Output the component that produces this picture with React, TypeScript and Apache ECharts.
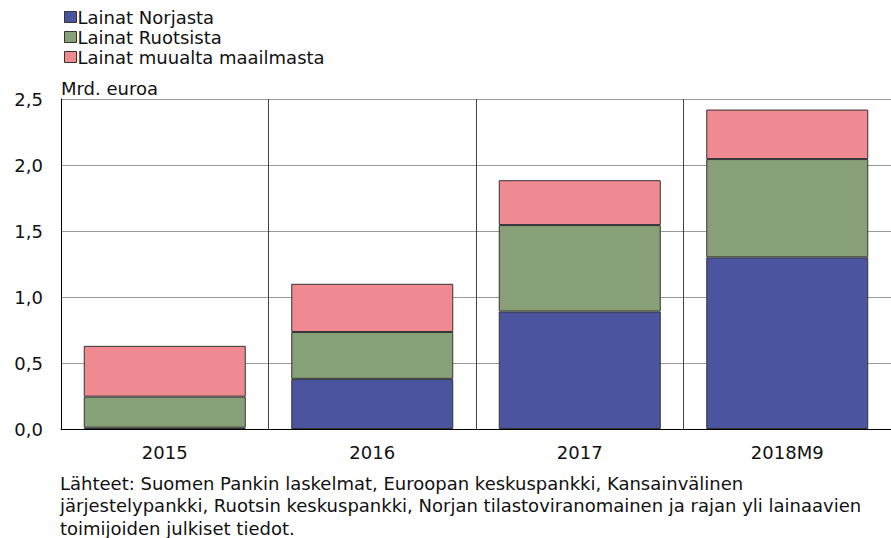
import React, { useEffect, useRef } from "react";
import * as echarts from "echarts";

const categories = ["2015", "2016", "2017", "2018M9"];
const norway = [0.01, 0.38, 0.89, 1.3];
const sweden = [0.235, 0.355, 0.655, 0.745];
const other = [0.385, 0.365, 0.34, 0.375];
const seriesNames = ["Lainat Norjasta", "Lainat Ruotsista", "Lainat muualta maailmasta"];
const colors = ["#4b549f", "#87a077", "#ef8a91"];
const yTicks = { min: 0, max: 2.5, interval: 0.5 };
const unitLabel = "Mrd. euroa";
const sourceLines = [
  "Lähteet: Suomen Pankin laskelmat, Euroopan keskuspankki, Kansainvälinen",
  "järjestelypankki, Ruotsin keskuspankki, Norjan tilastoviranomainen ja rajan yli lainaavien",
  "toimijoiden julkiset tiedot.",
];

const FONT = "'DejaVu Sans', sans-serif";
const FS = 18;

export default function App() {
  const ref = useRef<HTMLDivElement>(null);
  useEffect(() => {
    if (!ref.current) return;
    const chart = echarts.init(ref.current, null, { renderer: "svg" });
    const data = [norway, sweden, other];
    chart.setOption({
      animation: false,
      textStyle: { fontFamily: FONT },
      color: colors,
      legend: {
        orient: "vertical",
        left: 59,
        top: 3,
        itemWidth: 12,
        itemHeight: 11,
        itemGap: 2,
        icon: "rect",
        textStyle: { fontSize: FS, color: "#111", fontFamily: FONT, padding: [0, 0, 0, -4] },
        data: seriesNames.map((n) => ({ name: n, itemStyle: { borderColor: "#333", borderWidth: 1 } })),
      },
      grid: { left: 61, top: 99, width: 840, height: 330, containLabel: false },
      xAxis: {
        type: "category",
        data: categories,
        axisLine: { show: true, lineStyle: { color: "#000", width: 1 } },
        axisTick: { show: false },
        axisLabel: { fontSize: FS, color: "#111", margin: 14, fontFamily: FONT },
        splitLine: { show: true, interval: 0, lineStyle: { color: "#444", width: 1 } },
      },
      yAxis: {
        type: "value",
        min: yTicks.min,
        max: yTicks.max,
        interval: yTicks.interval,
        axisLine: { show: true, lineStyle: { color: "#000", width: 1 } },
        axisTick: { show: false },
        axisLabel: {
          fontSize: FS,
          color: "#111",
          margin: 18,
          fontFamily: FONT,
          formatter: (v: number) => v.toFixed(1).replace(".", ","),
        },
        splitLine: { show: true, lineStyle: { color: "#999", width: 1 } },
      },
      graphic: [
        {
          type: "text",
          left: 61,
          top: 79,
          style: { text: unitLabel, fontSize: FS, fill: "#111", fontFamily: FONT },
        },
        {
          type: "text",
          left: 60,
          top: 472,
          style: {
            text: sourceLines.join("\n"),
            fontSize: FS,
            lineHeight: 22.5,
            fill: "#111",
            fontFamily: FONT,
          },
        },
      ],
      series: seriesNames.map((name, i) => ({
        name,
        type: "bar",
        stack: "total",
        barWidth: 162,
        data: data[i],
        itemStyle: { color: colors[i], borderColor: "#333", borderWidth: 1 },
      })),
    });
    return () => chart.dispose();
  }, []);
  return <div ref={ref} style={{ width: 891, height: 538, position: "absolute", left: 0, top: 0 }} />;
}
